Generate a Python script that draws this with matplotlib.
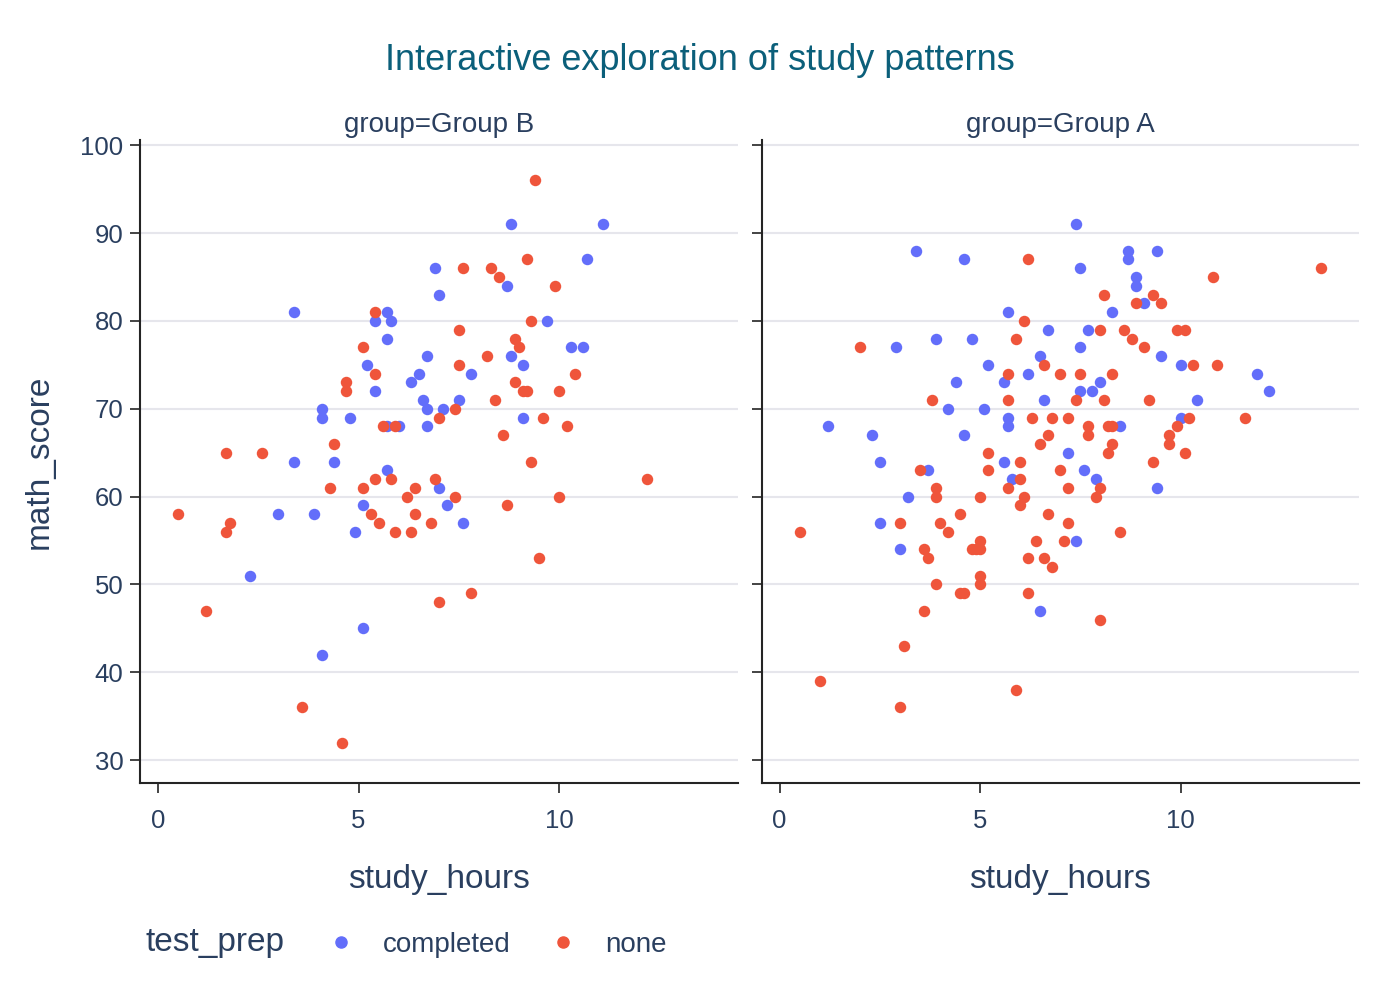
import matplotlib
matplotlib.use("Agg")
import matplotlib.pyplot as plt
from matplotlib.lines import Line2D

plt.rcParams['font.family'] = ['Liberation Sans', 'DejaVu Sans']

# Group B, test_prep = completed
b_comp_hours = [3.4, 5.4, 5.7, 5.8, 5.7, 6.7, 5.2, 6.5, 6.3, 5.4, 6.6, 6.7, 7.1, 4.1, 4.1,
                4.8, 5.7, 6.0, 6.7, 3.4, 4.4, 5.7, 8.8, 11.1, 10.7, 6.9, 8.7, 7.0, 9.7, 10.3,
                10.6, 8.8, 9.1, 7.8, 7.5, 9.1, 7.0, 7.2, 7.6, 5.1, 3.0, 3.9, 4.9, 2.3, 5.1, 4.1]
b_comp_score = [81, 80, 81, 80, 78, 76, 75, 74, 73, 72, 71, 70, 70, 70, 69,
                69, 68, 68, 68, 64, 64, 63, 91, 91, 87, 86, 84, 83, 80, 77,
                77, 76, 75, 74, 71, 69, 61, 59, 57, 59, 58, 58, 56, 51, 45, 42]

# Group B, test_prep = none
b_none_hours = [5.4, 5.1, 5.4, 4.7, 4.7, 7.0, 5.6, 5.9, 4.4, 1.7, 2.6, 5.4, 5.8, 6.9, 9.4,
                9.2, 7.6, 8.3, 8.5, 9.9, 9.3, 7.5, 8.9, 9.0, 8.2, 7.5, 10.4, 8.9, 9.1, 9.2,
                10.0, 8.4, 7.4, 9.6, 10.2, 8.6, 9.3, 12.2, 4.3, 5.1, 6.4, 6.2, 0.5, 5.3, 6.4,
                1.8, 5.5, 6.8, 1.7, 5.9, 6.3, 1.2, 7.0, 3.6, 4.6, 7.4, 10.0, 8.7, 9.5, 7.8]
b_none_score = [81, 77, 74, 73, 72, 69, 68, 68, 66, 65, 65, 62, 62, 62, 96,
                87, 86, 86, 85, 84, 80, 79, 78, 77, 76, 75, 74, 73, 72, 72,
                72, 71, 70, 69, 68, 67, 64, 62, 61, 61, 61, 60, 58, 58, 58,
                57, 57, 57, 56, 56, 56, 47, 48, 36, 32, 60, 60, 59, 53, 49]

# Group A, test_prep = completed
a_comp_hours = [3.4, 4.6, 5.7, 6.7, 2.9, 3.9, 4.8, 6.5, 5.2, 6.2, 4.4, 5.6, 6.6, 4.2, 5.1,
                1.2, 5.7, 5.7, 2.3, 4.6, 7.2, 2.5, 5.6, 3.7, 5.8, 3.2, 7.4, 8.7, 8.7, 9.4,
                7.5, 8.9, 8.9, 9.1, 8.3, 7.7, 7.5, 9.5, 10.0, 11.9, 8.0, 7.5, 7.8, 12.2, 10.4,
                10.0, 8.5, 7.6, 7.9, 9.4, 2.5, 3.0, 7.4, 6.5]
a_comp_score = [88, 87, 81, 79, 77, 78, 78, 76, 75, 74, 73, 73, 71, 70, 70,
                68, 69, 68, 67, 67, 65, 64, 64, 63, 62, 60, 91, 88, 87, 88,
                86, 85, 84, 82, 81, 79, 77, 76, 75, 74, 73, 72, 72, 72, 71,
                69, 68, 63, 62, 61, 57, 54, 55, 47]

# Group A, test_prep = none
a_none_hours = [6.2, 6.1, 2.0, 5.9, 6.6, 7.0, 5.7, 3.8, 5.7, 6.3, 6.8, 7.2, 6.7, 6.5, 5.2,
                6.0, 3.5, 5.2, 7.0, 6.0, 3.9, 5.7, 7.2, 3.9, 5.0, 6.1, 6.0, 4.5, 6.7, 3.0,
                4.0, 4.2, 0.5, 5.0, 4.8, 5.0, 6.4, 7.1, 3.6, 3.7, 6.2, 6.6, 6.8, 5.0, 5.0,
                3.9, 4.5, 4.6, 6.2, 3.6, 3.1, 1.0, 5.9, 3.0, 13.5, 10.8, 8.1, 9.3, 8.9,
                9.5, 8.0, 8.6, 9.9, 10.1, 8.8, 9.1, 10.3, 10.9, 8.3, 7.4, 8.1, 9.2, 10.2,
                11.6, 7.7, 7.7, 8.2, 8.3, 9.9, 9.7, 9.7, 8.3, 8.2, 10.1, 9.3, 8.0, 7.9,
                7.2, 8.5, 8.0, 7.5, 4.9]
a_none_score = [87, 80, 77, 78, 75, 74, 74, 71, 71, 69, 69, 69, 67, 66, 65,
                64, 63, 63, 63, 62, 61, 61, 61, 60, 60, 60, 59, 58, 58, 57,
                57, 56, 56, 55, 54, 54, 55, 55, 54, 53, 53, 53, 52, 51, 50,
                50, 49, 49, 49, 47, 43, 39, 38, 36, 86, 85, 83, 83, 82,
                82, 79, 79, 79, 79, 78, 77, 75, 75, 74, 71, 71, 71, 69,
                69, 68, 67, 68, 68, 68, 67, 66, 66, 65, 65, 64, 61, 60,
                57, 56, 46, 74, 54]

panels = ["group=Group B", "group=Group A"]
blue = '#636EFA'
red = '#EF553B'
txt = '#2a3f5f'
axc = '#242424'

fig = plt.figure(figsize=(14, 10), dpi=100)
ax1 = fig.add_axes([0.100, 0.217, 0.427, 0.643])
ax2 = fig.add_axes([0.544, 0.217, 0.427, 0.643])

data = [(b_comp_hours, b_comp_score, b_none_hours, b_none_score),
        (a_comp_hours, a_comp_score, a_none_hours, a_none_score)]

for ax, title, (ch, cs, nh, ns) in zip([ax1, ax2], panels, data):
    ax.scatter(ch, cs, s=68, color=blue, linewidths=0, zorder=3)
    ax.scatter(nh, ns, s=68, color=red, linewidths=0, zorder=4)
    ax.set_xlim(-0.45, 14.46)
    ax.set_ylim(27.4, 100.6)
    ax.set_xticks([0, 5, 10])
    ax.set_yticks(range(30, 101, 10))
    ax.grid(axis='y', color='#e6e6ec', linewidth=1.5, zorder=0)
    ax.set_axisbelow(True)
    for s in ['top', 'right']:
        ax.spines[s].set_visible(False)
    for s in ['left', 'bottom']:
        ax.spines[s].set_color(axc)
        ax.spines[s].set_linewidth(1.5)
    ax.tick_params(axis='both', direction='out', length=7, width=1.2, color=axc,
                   labelsize=18.5, labelcolor=txt)
    ax.tick_params(axis='x', pad=12)
    ax.tick_params(axis='y', pad=5)
    ax.set_xlabel('study_hours', fontsize=24, color=txt, labelpad=22)
    ax.set_title(title, fontsize=20, color=txt, pad=6)

ax1.set_ylabel('math_score', fontsize=24, color=txt, labelpad=18)
ax2.tick_params(axis='y', labelleft=False)

fig.suptitle('Interactive exploration of study patterns', fontsize=26,
             color='#0b5f7a', y=0.957)

# legend
handles = [Line2D([], [], marker='o', linestyle='', color=blue, markersize=8),
           Line2D([], [], marker='o', linestyle='', color=red, markersize=8)]
fig.text(0.104, 0.057, 'test_prep', fontsize=24, color=txt, va='center', ha='left')
fig.legend(handles, ['completed', 'none'], loc='center left', bbox_to_anchor=(0.216, 0.055),
           ncol=2, frameon=False, fontsize=20, labelcolor=txt, handletextpad=1.0,
           columnspacing=1.4, handlelength=1.0)

fig.savefig('out.png', dpi=100, facecolor='white')
